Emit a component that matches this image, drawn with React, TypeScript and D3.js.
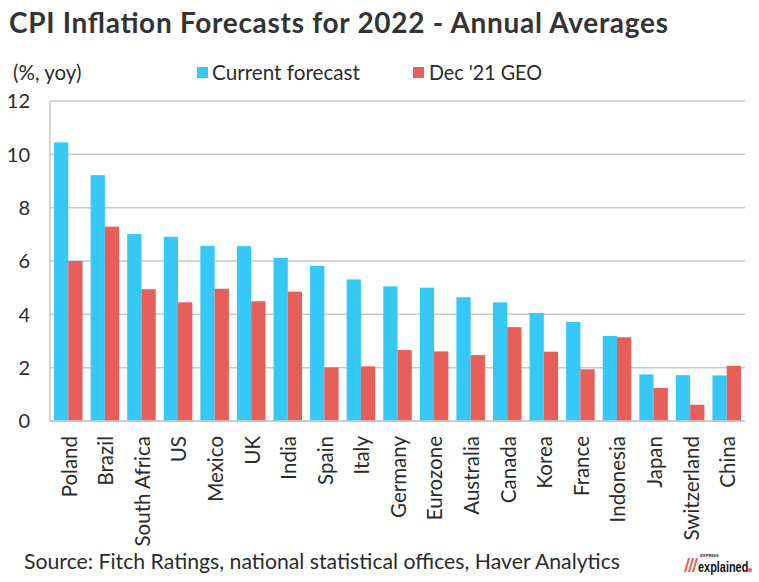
import React from "react";
import * as d3 from "d3";

const countries = ["Poland","Brazil","South Africa","US","Mexico","UK","India","Spain","Italy","Germany","Eurozone","Australia","Canada","Korea","France","Indonesia","Japan","Switzerland","China"];
const currentForecast = [10.45,9.22,7.01,6.91,6.57,6.56,6.12,5.82,5.31,5.05,5.0,4.64,4.45,4.05,3.72,3.19,1.75,1.72,1.71];
const dec21Geo = [6.0,7.29,4.94,4.45,4.96,4.49,4.85,2.01,2.05,2.66,2.61,2.47,3.52,2.6,1.94,3.14,1.24,0.61,2.07];
const yTicks = [0,2,4,6,8,10,12];
const seriesNames = ["Current forecast","Dec '21 GEO"];

const W = 759, H = 582;
const BLUE = "#36C9F7";
const RED = "#E75F58";
const GRID = "#C9C9C9";
const TXT = "#2b2b2b";
const FONT = "Lato, 'Open Sans', sans-serif";

export default function App() {
  const x0 = d3.scaleBand<string>().domain(countries).range([50, 745]).paddingInner(0.22).paddingOuter(0.11);
  const x1 = d3.scaleBand<string>().domain(["cur","dec"]).range([0, x0.bandwidth()]);
  const y = d3.scaleLinear().domain([0, 12]).range([421, 101]);

  return (
    <svg width={W} height={H} style={{ position: "absolute", left: 0, top: 0, background: "#fff" }} fontFamily={FONT}>
      <rect x={0} y={0} width={W} height={H} fill="#fff" />
      <text x={9} y={33} fontSize={28} fontWeight={700} fill="#333" textLength={659} lengthAdjust="spacing">CPI Inflation Forecasts for 2022 - Annual Averages</text>

      <text x={13} y={80} fontSize={20.5} fill={TXT}>(%, yoy)</text>
      <rect x={197} y={67} width={11} height={11} fill={BLUE} />
      <text x={212} y={80} fontSize={20.5} fill={TXT} textLength={148} lengthAdjust="spacingAndGlyphs">{seriesNames[0]}</text>
      <rect x={413} y={67} width={11} height={11} fill={RED} />
      <text x={429} y={80} fontSize={20.5} fill={TXT} textLength={113} lengthAdjust="spacingAndGlyphs">{seriesNames[1]}</text>

      {yTicks.map((t) => (
        <g key={t}>
          <line x1={50} x2={745} y1={y(t)} y2={y(t)} stroke={GRID} strokeWidth={1.5} />
          <text x={30} y={y(t)} dy="0.36em" textAnchor="end" fontSize={20} fill={TXT}>{t}</text>
        </g>
      ))}
      <line x1={50} x2={50} y1={y(12)} y2={y(0)} stroke={GRID} strokeWidth={1.5} />

      {countries.map((c, i) => (
        <g key={c} transform={`translate(${x0(c)},0)`}>
          <rect x={x1("cur")} y={y(currentForecast[i])} width={x1.bandwidth()} height={y(0) - y(currentForecast[i])} fill={BLUE} />
          <rect x={x1("dec")} y={y(dec21Geo[i])} width={x1.bandwidth()} height={y(0) - y(dec21Geo[i])} fill={RED} />
        </g>
      ))}
      <line x1={50} x2={745} y1={y(0)} y2={y(0)} stroke={GRID} strokeWidth={1.5} />

      {countries.map((c) => {
        const cx = (x0(c) as number) + x0.bandwidth() / 2 + 1;
        return (
          <text key={c} transform={`translate(${cx},436) rotate(-90)`} textAnchor="end" dy="0.36em" fontSize={20.5} fill={TXT}>{c}</text>
        );
      })}

      <text x={24} y={569} fontSize={21} fill={TXT} textLength={596} lengthAdjust="spacingAndGlyphs">Source: Fitch Ratings, national statistical offices, Haver Analytics</text>

      <g transform="translate(684,552)">
        {[0, 4, 8].map((o) => (
          <polygon key={o} points={`${o + 4},6 ${o + 6},6 ${o + 2},20 ${o},20`} fill={RED} />
        ))}
        <text x={16} y={5} fontSize={4.5} fontWeight={700} fill="#222">EXPRESS</text>
        <text transform="translate(14,20) scale(0.78,1)" fontSize={14} fontWeight={700} fill="#111" fontFamily="'Liberation Sans', Roboto, sans-serif">explained</text>
        <circle cx={66} cy={18} r={2} fill={RED} />
      </g>
    </svg>
  );
}
